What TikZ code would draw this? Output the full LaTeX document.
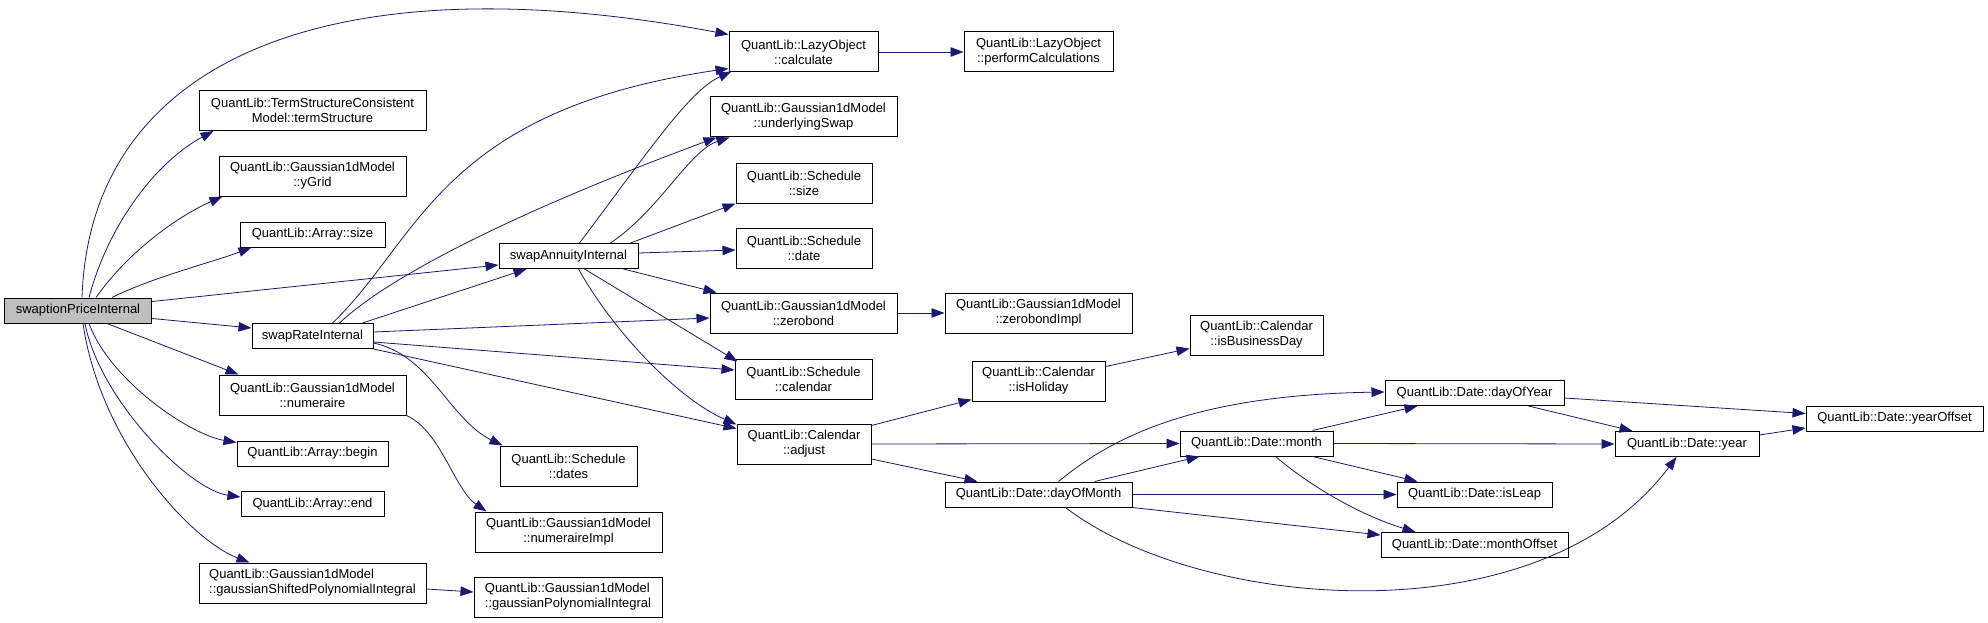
\documentclass[tikz,border=0pt]{standalone}
\usepackage{fontspec}
\setmainfont{Liberation Sans}
\usetikzlibrary{arrows.meta}
\definecolor{edgeblue}{HTML}{191970}
\definecolor{rootgrey}{HTML}{BFBFBF}

\begin{document}
\begin{tikzpicture}[x=1pt,y=-1pt,
			fn/.style={draw=black,line width=1pt,fill=white,font=\fontsize{13}{15}\selectfont,inner sep=0pt,align=center},
			one/.style={minimum height=25pt},
			two/.style={minimum height=40pt},
			arr/.style={-{Triangle[length=13pt,width=9.5pt]},draw=edgeblue,line width=0.8pt}
			]
			\useasboundingbox (0,0) rectangle (1988,623);
			% callers column
			\node[fn,one,fill=rootgrey,minimum width=147pt] (root) at (78,310.5) {swaptionPriceInternal};
			\node[fn,two,minimum width=227pt] (ts) at (312.5,110.5) {QuantLib::TermStructureConsistent\\Model::termStructure};
			\node[fn,two,minimum width=187pt] (ygrid) at (312.5,176) {QuantLib::Gaussian1dModel\\::yGrid};
			\node[fn,one,minimum width=145pt] (asize) at (312.5,234.5) {QuantLib::Array::size};
			\node[fn,one,minimum width=121pt] (rate) at (312.5,336) {swapRateInternal};
			\node[fn,two,minimum width=187pt] (numer) at (312.5,395) {QuantLib::Gaussian1dModel\\::numeraire};
			\node[fn,one,minimum width=151pt] (abegin) at (312.5,453.5) {QuantLib::Array::begin};
			\node[fn,one,minimum width=143pt] (aend) at (312.5,504) {QuantLib::Array::end};
			\node[fn,two,minimum width=227pt,align=left] (shifted) at (312.5,583) {QuantLib::Gaussian1dModel\\::gaussianShiftedPolynomialIntegral};
			\node[fn,one,minimum width=139pt] (annuity) at (568.5,256) {swapAnnuityInternal};
			\node[fn,two,minimum width=137pt] (dates) at (568.5,466) {QuantLib::Schedule\\::dates};
			\node[fn,two,minimum width=187pt] (numimpl) at (568.5,532) {QuantLib::Gaussian1dModel\\::numeraireImpl};
			\node[fn,two,minimum width=188pt,align=left] (polyint) at (568,597) {QuantLib::Gaussian1dModel\\::gaussianPolynomialIntegral};
			% callees
			\node[fn,two,minimum width=149pt] (calc) at (803.5,52) {QuantLib::LazyObject\\::calculate};
			\node[fn,two,minimum width=149pt] (perf) at (1038.5,52) {QuantLib::LazyObject\\::performCalculations};
			\node[fn,two,minimum width=187pt] (uswap) at (803.5,117) {QuantLib::Gaussian1dModel\\::underlyingSwap};
			\node[fn,two,minimum width=136pt] (ssize) at (804,183) {QuantLib::Schedule\\::size};
			\node[fn,two,minimum width=136pt] (sdate) at (804,248) {QuantLib::Schedule\\::date};
			\node[fn,two,minimum width=187pt] (zbond) at (803.5,313) {QuantLib::Gaussian1dModel\\::zerobond};
			\node[fn,two,minimum width=187pt] (zbimpl) at (1038.5,313) {QuantLib::Gaussian1dModel\\::zerobondImpl};
			\node[fn,two,minimum width=137pt] (scal) at (803.5,379) {QuantLib::Schedule\\::calendar};
			\node[fn,two,minimum width=134pt] (adjust) at (804,444) {QuantLib::Calendar\\::adjust};
			\node[fn,two,minimum width=133pt] (isHol) at (1038.5,381) {QuantLib::Calendar\\::isHoliday};
			\node[fn,two,minimum width=133pt] (isBD) at (1256.5,335) {QuantLib::Calendar\\::isBusinessDay};
			\node[fn,one,minimum width=153pt] (month) at (1256.5,443.5) {QuantLib::Date::month};
			\node[fn,one,minimum width=187pt] (dom) at (1038.5,494.5) {QuantLib::Date::dayOfMonth};
			\node[fn,one,minimum width=179pt] (doy) at (1474.5,393) {QuantLib::Date::dayOfYear};
			\node[fn,one,minimum width=144pt] (year) at (1687,444) {QuantLib::Date::year};
			\node[fn,one,minimum width=177pt] (yoff) at (1894.5,418.5) {QuantLib::Date::yearOffset};
			\node[fn,one,minimum width=155pt] (isLeap) at (1474.5,494.5) {QuantLib::Date::isLeap};
			\node[fn,one,minimum width=187pt] (moff) at (1474.5,545) {QuantLib::Date::monthOffset};
			% swaptionPriceInternal
			\draw[arr] ([xshift=4pt]root.north) .. controls +(8,-238) and +(-399,-75) .. ([yshift=-3pt]calc.north west);
			\draw[arr] ([xshift=11pt]root.north) .. controls +(21,-78) and +(-54,29) .. ([xshift=15pt]ts.south west);
			\draw[arr] ([xshift=18pt]root.north) .. controls +(34,-48) and +(-43,19) .. ([xshift=4pt]ygrid.south west);
			\draw[arr] ([xshift=34pt]root.north) .. controls +(40,-20) and +(-40,15) .. ([xshift=12pt]asize.south west);
			\draw[arr] ([yshift=-4pt]root.north east) -- ([yshift=4pt]annuity.south west);
			\draw[arr] ([yshift=5pt]root.south east) -- ([yshift=-5pt]rate.north west);
			\draw[arr] ([xshift=29pt]root.south) -- ([xshift=20pt]numer.north west);
			\draw[arr] ([xshift=11pt]root.south) .. controls +(21,57) and +(-47,-8) .. ([yshift=-2pt]abegin.north west);
			\draw[arr] ([xshift=7pt]root.south) .. controls +(15,77) and +(-51,-7) .. ([yshift=-6pt]aend.north west);
			\draw[arr] ([xshift=5pt]root.south) .. controls +(17,117) and +(-60,-23) .. ([xshift=51pt]shifted.north west);
			% swapRateInternal
			\draw[arr] ([xshift=20pt]rate.north) .. controls +(87,-83) and +(-289,42) .. ([yshift=4pt]calc.south west);
			\draw[arr] ([xshift=27pt]rate.north) .. controls +(51,-48) and +(-197,73) .. ([xshift=7pt]uswap.south west);
			\draw[arr] ([xshift=50pt]rate.north) -- ([xshift=28pt]annuity.south west);
			\draw[arr] ([yshift=4pt]rate.east) -- ([yshift=-5pt]zbond.west);
			\draw[arr] ([yshift=-6pt]rate.east) -- ([yshift=9pt]scal.west);
			\draw[arr] (rate.south east) -- ([yshift=-5pt]adjust.north west);
			\draw[arr] ([yshift=-7pt]rate.east) .. controls +(57,12) and +(-53,-26) .. ([xshift=3pt]dates.north west);
			% swapAnnuityInternal
			\draw[arr] ([xshift=11pt]annuity.north) .. controls +(70,-93) and +(-42,19) .. ([xshift=3pt,yshift=1pt]calc.south west);
			\draw[arr] ([xshift=42pt]annuity.north) .. controls +(49,-33) and +(-40,13) .. ([xshift=20pt]uswap.south west);
			\draw[arr] ([xshift=-8pt]annuity.north east) -- (ssize.south west);
			\draw[arr] ([yshift=3pt]annuity.east) -- ([yshift=-2pt]sdate.west);
			\draw[arr] ([xshift=55pt]annuity.south) -- ([xshift=7pt]zbond.north west);
			\draw[arr] ([xshift=16pt]annuity.south) -- ([xshift=3pt,yshift=-3pt]scal.north west);
			\draw[arr] ([xshift=10pt]annuity.south) .. controls +(37,66) and +(-57,-25) .. ([yshift=-1pt]adjust.north west);
			% the rest
			\draw[arr] (calc.east) -- (perf.west);
			\draw[arr] (zbond.east) -- (zbimpl.west);
			\draw[arr] (numer.south east) .. controls +(34,15) and +(-32,-22) .. ([xshift=12pt]numimpl.north west);
			\draw[arr] ([yshift=-6pt]shifted.east) -- ([yshift=5pt]polyint.west);
			\draw[arr] ([yshift=-2pt]adjust.north east) -- ([yshift=2pt]isHol.south west);
			\draw[arr] (adjust.east) -- (month.west);
			\draw[arr] ([yshift=-15pt]adjust.east) -- ([xshift=33pt]dom.north west);
			\draw[arr] ([yshift=-6pt]isHol.north east) -- ([yshift=7pt]isBD.south west);
			\draw[arr] ([xshift=114pt]dom.north west) .. controls +(51,-42) and +(-195,3) .. ([yshift=1pt]doy.west);
			\draw[arr] ([xshift=150pt]dom.north west) -- ([xshift=20pt]month.south west);
			\draw[arr] (dom.east) -- (isLeap.west);
			\draw[arr] (dom.south east) -- ([yshift=-3pt]moff.north west);
			\draw[arr] ([xshift=121pt]dom.south west) .. controls +(134,103) and +(-137,183) .. ([xshift=62pt]year.south west);
			\draw[arr] ([xshift=-21pt]month.north east) -- ([xshift=33pt]doy.south west);
			\draw[arr] (month.east) -- (year.west);
			\draw[arr] ([xshift=-21pt]month.south east) -- ([xshift=21pt]isLeap.north west);
			\draw[arr] ([xshift=96pt]month.south west) .. controls +(34,29) and +(-56,-17) .. ([xshift=35pt]moff.north west);
			\draw[arr] ([yshift=-5pt]doy.east) -- ([yshift=5pt]yoff.west);
			\draw[arr] ([xshift=-36pt]doy.south east) -- ([xshift=18pt]year.north west);
			\draw[arr] ([yshift=9pt]year.east) -- ([yshift=-9.5pt]yoff.west);
		\end{tikzpicture}
\end{document}
